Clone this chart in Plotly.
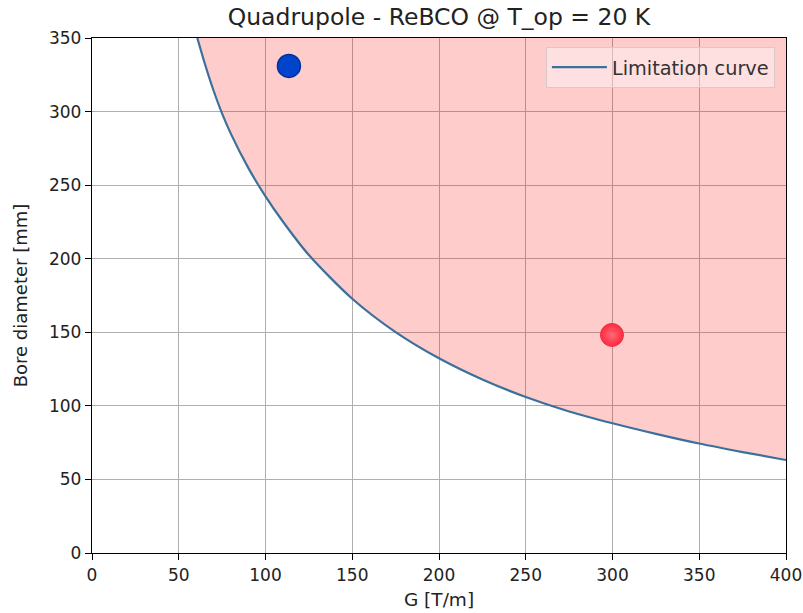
import plotly.graph_objects as go

# Limitation curve
G_curve = [60.7, 65, 70, 75, 80, 90, 100, 110, 125, 150, 175, 200, 225, 250, 275, 300, 325, 350, 375, 400]
D_curve = [350, 332.7, 314.5, 298.6, 285, 261.9, 242.4, 225.3, 202.5, 172.8, 150.1, 132.3, 117.9, 106, 96.2, 88.2, 81, 74.4, 68.6, 63.2]

# Design points
blue_G = [113.5]
blue_D = [331]
red_G = [299.7]
red_D = [148.2]

x_range = [0, 400]
y_range = [0, 350]
x_ticks = [0, 50, 100, 150, 200, 250, 300, 350, 400]
y_ticks = [0, 50, 100, 150, 200, 250, 300, 350]

FONT = "DejaVu Sans"

fig = go.Figure()

# top boundary of the shaded region (invisible)
fig.add_trace(go.Scatter(
    x=[G_curve[0], x_range[1]], y=[y_range[1], y_range[1]],
    mode="lines", line=dict(width=0), showlegend=False, hoverinfo="skip",
))
# shaded region above the limitation curve
fig.add_trace(go.Scatter(
    x=G_curve, y=D_curve, mode="lines",
    fill="tonexty", fillcolor="rgba(255,0,0,0.2)",
    line=dict(width=0, shape="spline", smoothing=0.8),
    showlegend=False, hoverinfo="skip",
))

fig.add_trace(go.Scatter(
    x=G_curve, y=D_curve, mode="lines",
    line=dict(color="#3b709c", width=2.2, shape="spline", smoothing=0.8),
    name="Limitation curve",
))

fig.add_trace(go.Scatter(
    x=blue_G, y=blue_D, mode="markers", showlegend=False,
    marker=dict(size=23, color="#0044cc", line=dict(color="#00309a", width=1.5)),
))
fig.add_trace(go.Scatter(
    x=red_G, y=red_D, mode="markers", showlegend=False,
    marker=dict(size=23, color="#ff2a3c", line=dict(color="#e8344a", width=1),
                gradient=dict(type="radial", color="#ff6a78")),
))

axis_common = dict(
    showgrid=True, gridcolor="#b0b0b0", gridwidth=1,
    showline=True, linecolor="black", linewidth=1.3, mirror=True,
    ticks="outside", ticklen=6, tickcolor="black", tickwidth=1.2,
    zeroline=False, automargin=False,
    tickfont=dict(family=FONT, size=17, color="#222"),
)

fig.update_layout(
    width=803, height=613,
    margin=dict(l=92, r=17, t=38, b=60),
    paper_bgcolor="white", plot_bgcolor="white",
    title=dict(text="Quadrupole - ReBCO @ T_op = 20 K", xref="paper", x=0.5, xanchor="center",
               y=0.972, yanchor="middle", font=dict(family=FONT, size=23.5, color="#222")),
    xaxis=dict(range=x_range, tickvals=x_ticks,
               title=dict(text="G [T/m]", font=dict(family=FONT, size=18.5, color="#222"), standoff=9),
               **axis_common),
    yaxis=dict(range=y_range, tickvals=y_ticks,
               title=dict(text="Bore diameter [mm]", font=dict(family=FONT, size=18, color="#222"), standoff=16),
               **axis_common),
    legend=dict(x=0.984, y=0.9825, xanchor="right", yanchor="top", itemwidth=55,
                bgcolor="rgba(255,255,255,0.4)", bordercolor="#d8c8c8", borderwidth=1,
                font=dict(family=FONT, size=19.3, color="#333")),
    showlegend=True,
)

fig.write_html("out.html")
